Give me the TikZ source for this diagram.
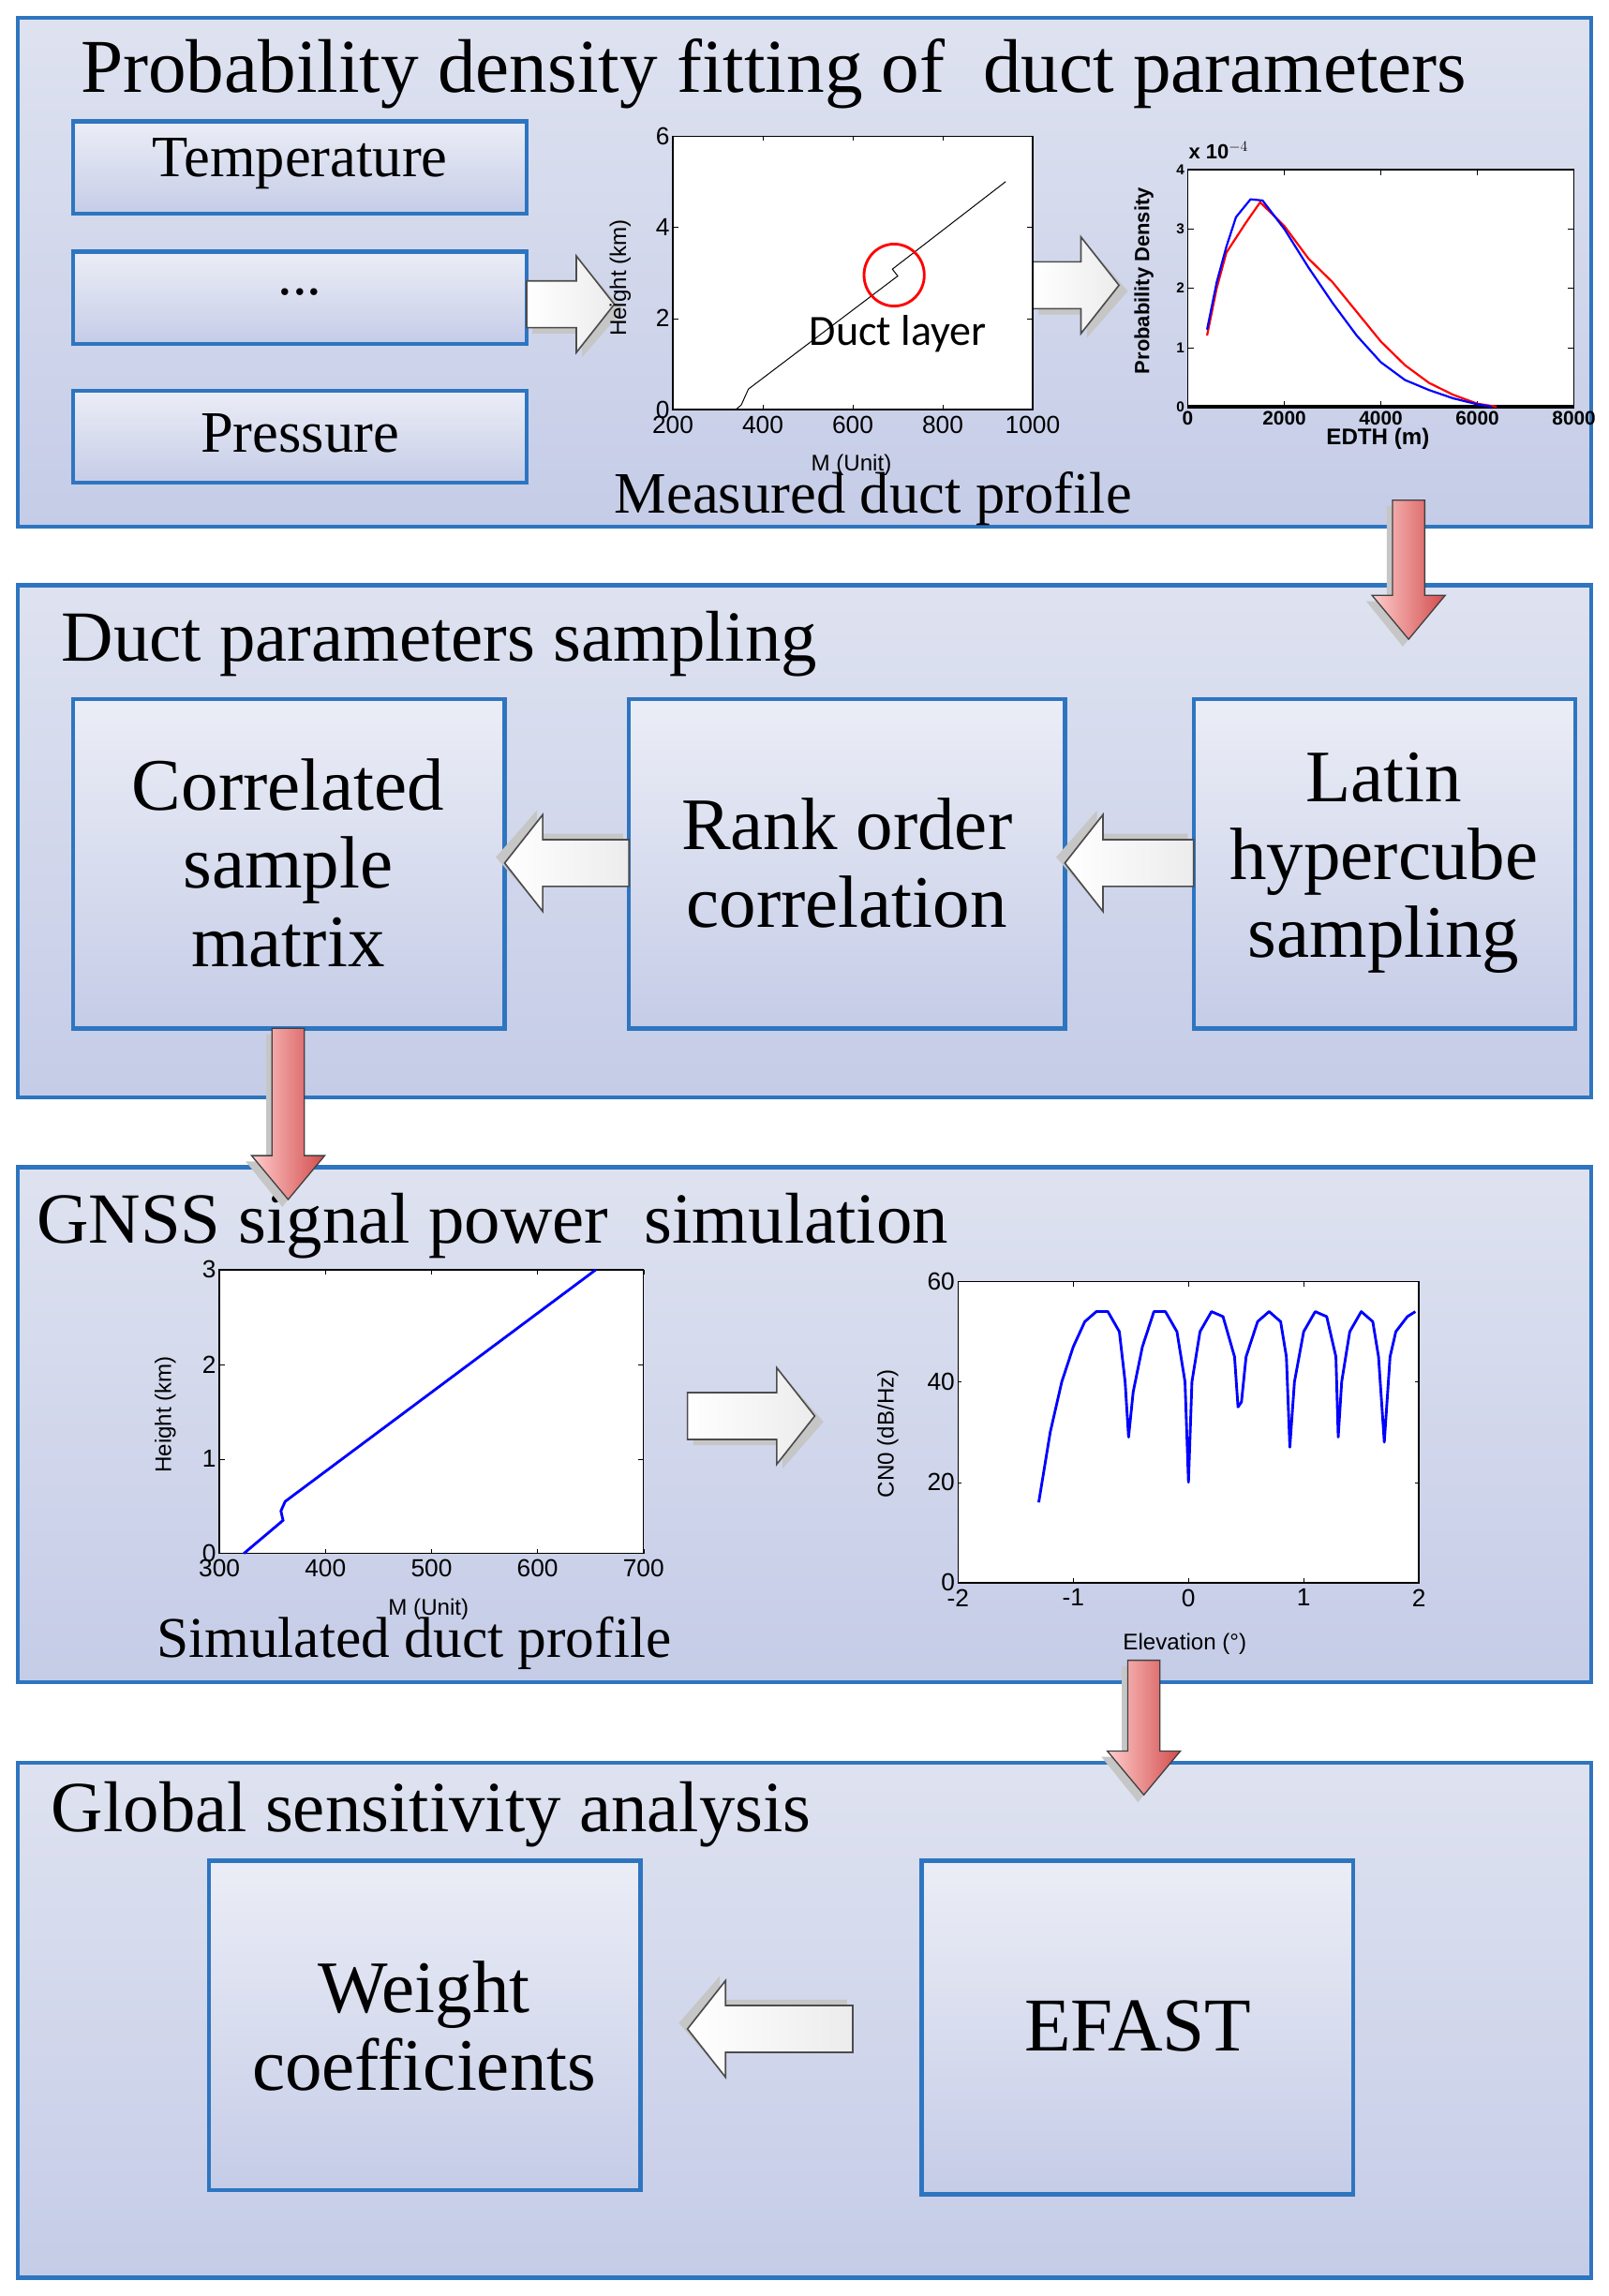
\documentclass[tikz,border=0pt]{standalone}
\usepackage{fontspec}
\setmainfont{Liberation Serif}
\newfontfamily\sansf{Liberation Sans}
\newfontfamily\calf{Carlito}
\begin{document}
\begin{tikzpicture}[x=0.05cm,y=-0.05cm,
  panel/.style={draw=blueb,line width=4pt,top color=bgtop,bottom color=bgbot},
  box/.style={draw=blueb,line width=4pt,top color=bgtop!60!white,bottom color=bgbot},
  ptitle/.style={anchor=base west,font=\fontsize{70}{70}\selectfont,inner sep=0},
  btxt/.style={align=center,font=\fontsize{72}{76}\selectfont},
  stxt/.style={font=\fontsize{57}{57}\selectfont},
  tick/.style={font=\sansf\fontsize{24}{24}\selectfont,inner sep=6pt},
  axbox/.style={fill=white,draw=black,line width=1.2pt},
  pics/harrow/.style={code={
    \fill[gray!45] (4,-12) -- ({#1-22},-12) -- ({#1-22},-28) -- (#1+6,4) -- ({#1-22},36) -- ({#1-22},20) -- (4,20) -- cycle;
    \draw[draw=gray!60!black,line width=1.5pt,left color=white,right color=gray!15]
      (0,-16) -- ({#1-26},-16) -- ({#1-26},-33) -- (#1,0) -- ({#1-26},33) -- ({#1-26},16) -- (0,16) -- cycle;}},
  pics/rarrow/.style={code={
    \fill[gray!45] (4,-7) -- ({#1-26},-7) -- ({#1-26},-21) -- (#1+5,4) -- ({#1-26},29) -- ({#1-26},15) -- (4,15) -- cycle;
    \draw[draw=gray!50!black,line width=1.2pt,left color=red!20,right color=red!75!black!70]
      (0,-11) -- ({#1-30},-11) -- ({#1-30},-25) -- (#1,0) -- ({#1-30},25) -- ({#1-30},11) -- (0,11) -- cycle;}}
]
\definecolor{blueb}{HTML}{2E75C0}
\definecolor{bgtop}{HTML}{DEE2F0}
\definecolor{bgbot}{HTML}{C5CCE7}
\useasboundingbox (0,0) rectangle (1100,1569.6);
\fill[white] (0,0) rectangle (1100,1569.6);

% panels
\draw[panel] (12,12) rectangle (1088,360);
\draw[panel] (12,400) rectangle (1088,750);
\draw[panel] (12,798) rectangle (1088,1150);
\draw[panel] (12,1205) rectangle (1088,1557);

\node[ptitle,font=\fontsize{74}{74}\selectfont] (t1) at (55,63) {Probability density fitting of\ \ duct parameters};
\node[ptitle] (t2) at (42,452) {Duct parameters sampling};
\node[ptitle] (t3) at (25,850) {GNSS signal power\ \ simulation};
\node[ptitle] (t4) at (35,1252) {Global sensitivity analysis};

% panel 1 boxes
\draw[box] (50,83) rectangle (360,146); \node[stxt] (temp) at (205,112) {Temperature};
\draw[box] (50,172) rectangle (360,235); \node[stxt] (dots) at (205,200) {...};
\draw[box] (50,267) rectangle (360,330); \node[stxt] (pres) at (205,296) {Pressure};
\pic at (360,208) {harrow=60};
\pic at (706,195) {harrow=59};

% plot 1
\draw[axbox] (460,93) rectangle (706,280);
\begin{scope}[shift={(398.5,280)},xscale=0.3075,yscale=-31.17]
  \foreach \x in {200,400,...,1000} {\draw (\x,0) -- (\x,0.1); \draw (\x,6) -- (\x,5.9);
    \node[tick,anchor=north] at (\x,0) {\x};}
  \foreach \y in {0,2,4,6} {\draw (200,\y) -- (212,\y); \draw (1000,\y) -- (988,\y);
    \node[tick,anchor=east,inner sep=3pt] at (200,\y) {\y};}
  \draw[line width=0.9pt] (340,0) -- (352,0.1) -- (368,0.45) -- (700,2.93) -- (688,3.08) -- (940,5.0);
  \draw[red,line width=2.6pt] (692,2.95) ellipse [x radius=67,y radius=0.68];
\end{scope}
\node[font=\calf\fontsize{42}{42}\selectfont] (duct) at (614,228) {Duct layer};
\node[font=\sansf\fontsize{22}{22}\selectfont,rotate=90] (h1) at (424,190) {Height (km)};
\node[font=\sansf\fontsize{22}{22}\selectfont] (m1) at (582,318) {M (Unit)};
\node[font=\fontsize{57}{57}\selectfont] (meas) at (597,341) {Measured duct profile};

% plot 2
\draw[axbox] (812,116) rectangle (1076,278);
\begin{scope}[shift={(812,278)},xscale=0.033,yscale=-40.5]
  \foreach \x in {0,2000,4000,6000,8000} {\draw (\x,0) -- (\x,0.1); \draw (\x,4) -- (\x,3.9);
    \node[anchor=north,inner sep=4pt,font=\sansf\bfseries\fontsize{19}{19}\selectfont] at (\x,0) {\x};}
  \foreach \y in {0,1,2,3,4} {\draw (0,\y) -- (120,\y); \draw (8000,\y) -- (7880,\y);
    \node[anchor=east,inner sep=3pt,font=\sansf\bfseries\fontsize{14}{14}\selectfont] at (0,\y) {\y};}
  \draw[line width=3pt] (0,0) -- (8000,0);
  \draw[red,line width=2pt] (400,1.2) -- (600,2.0) -- (800,2.6) -- (1000,2.85) -- (1200,3.1) -- (1500,3.45) -- (2000,3.05) -- (2500,2.5) -- (3000,2.1) -- (3500,1.6) -- (4000,1.1) -- (4500,0.7) -- (5000,0.4) -- (5500,0.2) -- (6000,0.05) -- (6400,0);
  \draw[blue,line width=2pt] (400,1.3) -- (600,2.1) -- (800,2.7) -- (1000,3.2) -- (1300,3.5) -- (1550,3.48) -- (2000,3.0) -- (2500,2.35) -- (3000,1.75) -- (3500,1.2) -- (4000,0.75) -- (4500,0.45) -- (5000,0.28) -- (5500,0.14) -- (6000,0.04) -- (6300,0);
\end{scope}
\node[font=\sansf\bfseries\fontsize{20}{20}\selectfont] (x10) at (833,103) {x 10$^{-4}$};
\node[font=\sansf\bfseries\fontsize{20}{20}\selectfont,rotate=90] (pd) at (782,192) {Probability Density};
\node[font=\sansf\bfseries\fontsize{22}{22}\selectfont] (edth) at (942,300) {EDTH (m)};

% panel 2
\draw[box] (50,478) rectangle (345,703); \node[btxt] (corr) at (197,590) {Correlated\\sample\\matrix};
\draw[box] (430,478) rectangle (728,703); \node[btxt] (rank) at (579,590) {Rank order\\correlation};
\draw[box] (816,478) rectangle (1077,703); \node[btxt] (lhs) at (946,590) {Latin\\hypercube\\sampling};
\pic[rotate=180] at (430,590) {harrow=85};
\pic[rotate=180] at (816,590) {harrow=88};

% plot 3
\draw[axbox] (150,868) rectangle (440,1062);
\begin{scope}[shift={(-67.5,1062)},xscale=0.725,yscale=-64.67]
  \foreach \x in {300,400,...,700} {\draw (\x,0) -- (\x,0.05); \draw (\x,3) -- (\x,2.95);
    \node[tick,anchor=north] at (\x,0) {\x};}
  \foreach \y in {0,1,2,3} {\draw (300,\y) -- (305,\y); \draw (700,\y) -- (695,\y);
    \node[tick,anchor=east,inner sep=3pt] at (300,\y) {\y};}
  \draw[blue,line width=2.6pt] (323,0) -- (360,0.35) -- (358,0.45) -- (362,0.55) -- (655,3);
\end{scope}
\node[font=\sansf\fontsize{22}{22}\selectfont,rotate=90] (h3) at (113,967) {Height (km)};
\node[font=\sansf\fontsize{22}{22}\selectfont] (m3) at (293,1100) {M (Unit)};
\node[font=\fontsize{56}{56}\selectfont] (sim) at (283,1123) {Simulated duct profile};
\pic at (470,968) {harrow=87};

% plot 4
\draw[axbox] (655,876) rectangle (970,1082);
\begin{scope}[shift={(812.5,1082)},xscale=78.75,yscale=-3.433]
  \foreach \x in {-2,-1,0,1,2} {\draw (\x,0) -- (\x,1); \draw (\x,60) -- (\x,59);
    \node[tick,anchor=north] at (\x,0) {\x};}
  \foreach \y in {0,20,40,60} {\draw (-2,\y) -- (-1.97,\y); \draw (2,\y) -- (1.97,\y);
    \node[tick,anchor=east,inner sep=3pt] at (-2,\y) {\y};}
  \draw[blue,line width=2.6pt,line join=round] (-1.3,16) -- (-1.2,30) -- (-1.1,40) -- (-1,47) -- (-0.9,52) -- (-0.8,54) -- (-0.7,54) -- (-0.6,50) -- (-0.55,40) -- (-0.52,29) -- (-0.48,38) -- (-0.4,47) -- (-0.3,54) -- (-0.2,54) -- (-0.1,50) -- (-0.03,40) -- (0,20) -- (0.03,40) -- (0.1,50) -- (0.2,54) -- (0.3,53) -- (0.4,45) -- (0.43,35) -- (0.46,36) -- (0.5,45) -- (0.6,52) -- (0.7,54) -- (0.8,52) -- (0.85,45) -- (0.88,27) -- (0.92,40) -- (1.0,50) -- (1.1,54) -- (1.2,53) -- (1.28,45) -- (1.3,29) -- (1.33,40) -- (1.4,50) -- (1.5,54) -- (1.6,52) -- (1.65,45) -- (1.7,28) -- (1.75,45) -- (1.8,50) -- (1.9,53) -- (1.97,54);
\end{scope}
\node[font=\sansf\fontsize{22}{22}\selectfont,rotate=90] (cn0) at (607,980) {CN0 (dB/Hz)};
\node[font=\sansf\fontsize{22}{22}\selectfont] (elev) at (810,1124) {Elevation (\textdegree)};

% panel 4
\draw[box] (143,1272) rectangle (438,1497); \node[btxt] (wc) at (290,1385) {Weight\\coefficients};
\draw[box] (630,1272) rectangle (925,1500); \node[btxt,font=\fontsize{74}{74}\selectfont] (efast) at (778,1385) {EFAST};
\pic[rotate=180] at (583,1387) {harrow=113};

% red arrows between panels
\pic[rotate=-90] at (963,342) {rarrow=95};
\pic[rotate=-90] at (197,703) {rarrow=117};
\pic[rotate=-90] at (782,1135) {rarrow=92};
\end{tikzpicture}
\end{document}
